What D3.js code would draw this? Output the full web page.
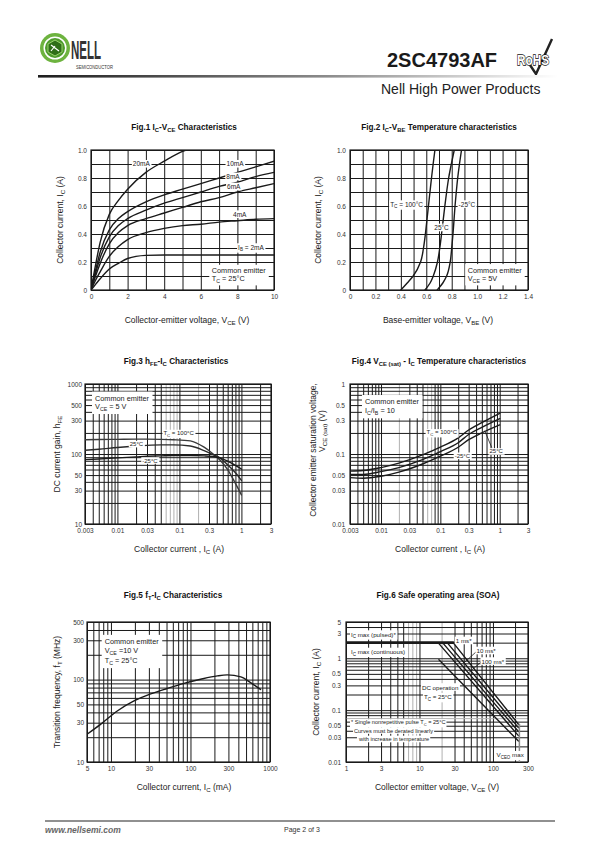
<!DOCTYPE html>
<html><head><meta charset="utf-8">
<script src="https://cdn.jsdelivr.net/npm/d3@7/dist/d3.min.js"></script>
<style>
body{margin:0;background:#fff}
svg{display:block}
text{font-family:"Liberation Sans",Arial,Helvetica,sans-serif}
</style></head>
<body><svg id="page" width="595" height="842" viewBox="0 0 595 842"></svg>
<script>
// ======================= DATA =======================
// Fig.1  IC-VCE (VCE in V, IC in A), one curve per base current
const fig1Vce   = [0,0.25,0.5,1,1.5,2,3,4,5,6,7,8,9,10];
const fig1Vce20 = [0,0.25,0.5,1,1.5,2,3,4,5,5.2];
const fig1Ib20  = [0,0.18,0.34,0.54,0.64,0.72,0.84,0.92,0.99,1.0];
const fig1Ib10  = [0,0.14,0.27,0.43,0.51,0.56,0.63,0.68,0.72,0.76,0.80,0.84,0.88,0.92];
const fig1Ib8   = [0,0.12,0.23,0.38,0.46,0.51,0.57,0.62,0.66,0.70,0.74,0.77,0.81,0.84];
const fig1Ib6   = [0,0.10,0.19,0.33,0.41,0.46,0.51,0.55,0.59,0.63,0.66,0.70,0.73,0.76];
const fig1Ib4   = [0,0.07,0.13,0.24,0.31,0.36,0.41,0.44,0.46,0.47,0.485,0.495,0.505,0.51];
const fig1Ib2   = [0,0.04,0.08,0.15,0.19,0.225,0.247,0.25,0.25,0.25,0.25,0.25,0.25,0.25];
const fig1XTicks = [0,2,4,6,8,10];
const fig1YTicks = [0,0.2,0.4,0.6,0.8,1.0];

// Fig.2  IC-VBE (IC in A, VBE in V)
const fig2Ic     = [0,0.05,0.1,0.2,0.3,0.4,0.5,0.6,0.7,0.8,0.9,1.0];
const fig2Vbe100 = [0.40,0.45,0.497,0.555,0.578,0.593,0.605,0.617,0.629,0.641,0.654,0.668];
const fig2Vbe25  = [0.59,0.63,0.655,0.688,0.706,0.72,0.733,0.746,0.76,0.776,0.797,0.82];
const fig2VbeM25 = [0.686,0.73,0.76,0.788,0.80,0.81,0.818,0.826,0.836,0.847,0.861,0.877];
const fig2XTicks = [0,0.2,0.4,0.6,0.8,1.0,1.2,1.4];
const fig2YTicks = [0,0.2,0.4,0.6,0.8,1.0];

// Fig.3  hFE-IC (IC in A)
const fig3Ic     = [0.003,0.005,0.01,0.02,0.03,0.05,0.08,0.15,0.25,0.35,0.45,0.6,0.8,1.0];
const fig3Hfe100 = [160,161,162,163,163,162,160,154,125,100,82,60,38,26];
const fig3Hfe25  = [113,117,124,130,133,135,135,130,112,98,88,70,54,42];
const fig3HfeM25 = [83,85,88,91,93,94,95,95,94,92,88,79,69,61];
const fig3XTicks = [0.003,0.01,0.03,0.1,0.3,1,3];
const fig3YTicks = [10,30,50,100,300,500,1000];

// Fig.4  VCE(sat)-IC (IC in A, VCE(sat) in V)
const fig4Ic      = [0.003,0.005,0.01,0.02,0.05,0.1,0.2,0.3,0.5,1];
const fig4Vsat100 = [0.057,0.058,0.064,0.074,0.097,0.125,0.17,0.22,0.28,0.38];
const fig4Vsat25  = [0.051,0.051,0.056,0.064,0.083,0.108,0.145,0.19,0.24,0.32];
const fig4VsatM25 = [0.046,0.045,0.048,0.055,0.072,0.093,0.125,0.16,0.20,0.26];
const fig4XTicks = [0.003,0.01,0.03,0.1,0.3,1,3];
const fig4YTicks = [0.01,0.03,0.05,0.1,0.3,0.5,1];

// Fig.5  fT-IC (IC in mA, fT in MHz)
const fig5Ic = [5,7.4,12,19.5,31.6,51,83,134,218,290,430,570,760];
const fig5Ft = [21.7,28.6,41.6,55,67,78,90,101,111,114,108,92,76];
const fig5XTicks = [5,10,30,100,300,1000];
const fig5YTicks = [10,30,50,100,300,500];

// Fig.6  SOA (VCE in V, IC in A)
const fig6IcMaxV = [1,28.7],    fig6IcMaxI = [2,2];
const fig6Ms1V   = [28.7,222],  fig6Ms1I   = [2,0.0535];
const fig6Ms10V  = [23.8,222],  fig6Ms10I  = [2,0.046];
const fig6Ms100V = [20.6,222],  fig6Ms100I = [2,0.0386];
const fig6LineDV = [17.9,222],  fig6LineDI = [2,0.0323];
const fig6DcV    = [18.4,222],  fig6DcI    = [0.94,0.0253];
const fig6VceoV  = [229,229],   fig6VceoI  = [0.0535,0.01];
const fig6XTicks = [1,3,10,30,100,300];
const fig6YTicks = [0.01,0.03,0.05,0.1,0.3,0.5,1,3,5];

// ======================= DRAWING =======================
const svg = d3.select('#page');
const INK = '#1a1a1a';
const defs = svg.append('defs');

function rich(parent, x, y, str, o = {}) {
  const size = o.size || 7;
  let tx = x;
  if (o.rotate) tx = x + size * 0.35;
  const t = parent.append('text').attr('x', tx).attr('y', y)
    .attr('font-size', size).attr('text-anchor', o.anchor || 'start')
    .attr('fill', o.fill || '#222').attr('font-weight', o.weight || 'normal');
  if (o.rotate) t.attr('transform', `rotate(-90,${tx},${y})`);
  if (o.style) t.attr('font-style', o.style);
  const parts = str.split(/(_\{[^}]*\})/).filter(s => s.length);
  let shift = 0;
  parts.forEach(p => {
    if (p.startsWith('_{')) {
      t.append('tspan').text(p.slice(2, -1)).attr('font-size', size * 0.72).attr('dy', size * 0.28);
      shift = size * 0.28;
    } else {
      const ts = t.append('tspan').text(p);
      if (shift) { ts.attr('dy', -shift); shift = 0; }
    }
  });
  if (o.bg) {
    const b = t.node().getBBox();
    const pd = o.pad == null ? 1 : o.pad;
    parent.insert('rect', () => t.node()).attr('x', b.x - pd).attr('y', b.y - 0.3)
      .attr('width', b.width + 2 * pd).attr('height', b.height + 0.6).attr('fill', '#fff');
  }
  return t;
}

function box(parent, xs, ys, strs, size, padX, padY) {
  const g = parent.append('g');
  strs.forEach((s, i) => rich(g, xs[i], ys[i], s, { size }));
  const b = g.node().getBBox();
  g.insert('rect', ':first-child').attr('x', b.x - padX).attr('y', b.y - padY)
    .attr('width', b.width + 2 * padX).attr('height', b.height + 2 * padY).attr('fill', '#fff');
  return g;
}

let clipN = 0;
function panel(c) {
  const g = svg.append('g');
  const x = (c.xlog ? d3.scaleLog() : d3.scaleLinear()).domain(c.xd).range([c.x0, c.x1]);
  const y = (c.ylog ? d3.scaleLog() : d3.scaleLinear()).domain(c.yd).range([c.y1, c.y0]);
  const W = c.x1 - c.x0, H = c.y1 - c.y0;
  const id = 'clip' + (clipN++);
  defs.append('clipPath').attr('id', id).append('rect')
    .attr('x', c.x0).attr('y', c.y0).attr('width', W).attr('height', H);
  const isGray = (list, d) => (list || []).some(v => Math.abs(d / v - 1) < 1e-6);
  const xg = x.ticks(c.xn || 10), yg = y.ticks(c.yn || 10);
  g.append('g').attr('transform', `translate(0,${c.y1})`)
    .call(d3.axisBottom(x).tickValues(xg).tickSize(-H).tickFormat(''))
    .call(a => a.select('.domain').remove())
    .selectAll('line').attr('stroke', d => isGray(c.grayX, d) ? '#b0b0b0' : INK).attr('stroke-width', 1);
  g.append('g').attr('transform', `translate(${c.x0},0)`)
    .call(d3.axisLeft(y).tickValues(yg).tickSize(-W).tickFormat(''))
    .call(a => a.select('.domain').remove())
    .selectAll('line').attr('stroke', d => isGray(c.grayY, d) ? '#b0b0b0' : INK).attr('stroke-width', 1);
  g.append('rect').attr('x', c.x0).attr('y', c.y0).attr('width', W).attr('height', H)
    .attr('fill', 'none').attr('stroke', INK).attr('stroke-width', 1.2);
  const xa = g.append('g').attr('transform', `translate(0,${c.y1})`)
    .call(d3.axisBottom(x).tickValues(c.xt).tickSize(0).tickPadding(c.xpad || 4.5).tickFormat(c.xf || (d => String(d))));
  xa.select('.domain').remove();
  xa.attr('font-size', 6.5).selectAll('text').attr('fill', '#333');
  const ya = g.append('g').attr('transform', `translate(${c.x0},0)`)
    .call(d3.axisLeft(y).tickValues(c.yt).tickSize(0).tickPadding(c.ypad || 4).tickFormat(c.yf || (d => String(d))));
  ya.select('.domain').remove();
  ya.attr('font-size', 6.5).selectAll('text').attr('fill', '#333');
  // titles
  rich(svg, c.tx, c.ty, c.title, { size: 8.2, anchor: 'middle', weight: 'bold', fill: '#111' });
  rich(svg, c.xlx, c.xly, c.xlabel, { size: 8.5, anchor: 'middle', fill: '#222' });
  c.ylabels.forEach(l => rich(svg, l[0], l[1], l[2], { size: 8.5, anchor: 'middle', rotate: true, fill: '#222' }));
  const cg = g.append('g').attr('clip-path', `url(#${id})`);
  return { g, x, y, cg };
}

function curve(p, xs, ys, o = {}) {
  const pts = xs.map((v, i) => [v, ys[i]]);
  const ln = d3.line().x(d => p.x(d[0])).y(d => p.y(d[1])).curve(o.curve || d3.curveMonotoneX);
  p.cg.append('path').attr('d', ln(pts)).attr('fill', 'none')
    .attr('stroke', o.stroke || INK).attr('stroke-width', o.w || 1.4).attr('stroke-linecap', 'round');
}
function lbl(p, vx, vy, s, o = {}) {
  const size = o.size || 6.5;
  return rich(p.g, p.x(vx), p.y(vy) + size * 0.35, s, Object.assign({ size, bg: true, fill: '#222' }, o));
}

// ---------------- HEADER ----------------
const lg = svg.append('g');
lg.append('circle').attr('cx', 55).attr('cy', 48).attr('r', 15).attr('fill', '#6db33f');
lg.append('circle').attr('cx', 55).attr('cy', 48).attr('r', 11.5).attr('fill', '#fff');
lg.append('circle').attr('cx', 55).attr('cy', 48).attr('r', 10).attr('fill', '#4e9a2c');
lg.append('path').attr('d', 'M55,40 L62,44 L62,52 L55,56 L48,52 L48,44 Z').attr('fill', '#2f6e18').attr('stroke', '#9bd36f').attr('stroke-width', 1);
lg.append('path').attr('d', 'M51,45 L59,51 M51,51 L55,46').attr('stroke', '#fff').attr('stroke-width', 1.2).attr('fill', 'none');
svg.append('text').attr('x', 71).attr('y', 59).attr('font-size', 25).attr('font-weight', 'bold')
  .attr('font-family', 'DejaVu Sans Condensed').attr('fill', '#333')
  .attr('textLength', 30).attr('lengthAdjust', 'spacingAndGlyphs').text('NELL');
svg.append('text').attr('x', 76).attr('y', 68.5).attr('font-size', 5.5).attr('fill', '#333')
  .attr('textLength', 37).attr('lengthAdjust', 'spacingAndGlyphs').text('SEMICONDUCTOR');
svg.append('text').attr('x', 387).attr('y', 67).attr('font-size', 20).attr('font-weight', 'bold')
  .attr('fill', '#1a1a1a').text('2SC4793AF');
const rh = svg.append('g');
rh.append('path').attr('d', 'M530,65 L536,74 L552,39').attr('fill', 'none').attr('stroke', '#222').attr('stroke-width', 2.4);
rh.append('text').attr('x', 517).attr('y', 65).attr('font-size', 15).attr('font-weight', 'bold')
  .attr('font-family', 'DejaVu Sans Condensed').attr('fill', '#fff').attr('stroke', '#111')
  .attr('stroke-width', 1.4).attr('paint-order', 'stroke')
  .attr('textLength', 32).attr('lengthAdjust', 'spacingAndGlyphs').text('RoHS');
const gr = defs.append('linearGradient').attr('id', 'hdrGrad');
gr.append('stop').attr('offset', '0%').attr('stop-color', '#1e1e1e');
gr.append('stop').attr('offset', '55%').attr('stop-color', '#8a8a8a');
gr.append('stop').attr('offset', '100%').attr('stop-color', '#ffffff');
svg.append('rect').attr('x', 38).attr('y', 75).attr('width', 520).attr('height', 2.6).attr('fill', 'url(#hdrGrad)');
svg.append('text').attr('x', 381).attr('y', 94).attr('font-size', 14).attr('fill', '#222').text('Nell High Power Products');

// ---------------- FIG 1 ----------------
const p1 = panel({
  x0: 91, x1: 274, y0: 150, y1: 290, xd: [0, 10], yd: [0, 1], xn: 10, yn: 10,
  xt: fig1XTicks, yt: fig1YTicks, xf: d => String(d), yf: d => d === 0 ? '0' : d.toFixed(1),
  title: 'Fig.1 I_{C}-V_{CE} Characteristics', tx: 184, ty: 130,
  xlabel: 'Collector-emitter voltage, V_{CE} (V)', xlx: 187, xly: 323,
  ylabels: [[60, 220, 'Collector current, I_{C} (A)']]
});
curve(p1, fig1Vce20, fig1Ib20);
[fig1Ib10, fig1Ib8, fig1Ib6, fig1Ib4, fig1Ib2].forEach(s => curve(p1, fig1Vce, s));
lbl(p1, 2.75, 0.9, '20mA', { anchor: 'middle' });
lbl(p1, 7.87, 0.9, '10mA', { anchor: 'middle' });
lbl(p1, 7.76, 0.81, '8mA', { anchor: 'middle' });
lbl(p1, 7.8, 0.738, '6mA', { anchor: 'middle' });
lbl(p1, 8.13, 0.54, '4mA', { anchor: 'middle' });
lbl(p1, 8.74, 0.305, 'I_{B} = 2mA', { anchor: 'middle' });
box(p1.g, [p1.x(6.6), p1.x(6.6)], [p1.y(0.138) + 2.6, p1.y(0.084) + 2.6],
  ['Common emitter', 'T_{C} = 25°C'], 7.3, 2.5, 1.5);

// ---------------- FIG 2 ----------------
const p2 = panel({
  x0: 350, x1: 528, y0: 150, y1: 290, xd: [0, 1.4], yd: [0, 1], xn: 14, yn: 10,
  xt: fig2XTicks, yt: fig2YTicks, xf: d => d === 0 ? '0' : d.toFixed(1), yf: d => d === 0 ? '0' : d.toFixed(1),
  title: 'Fig.2 I_{C}-V_{BE} Temperature characteristics', tx: 439, ty: 130,
  xlabel: 'Base-emitter voltage, V_{BE} (V)', xlx: 438, xly: 323,
  ylabels: [[318, 220, 'Collector current, I_{C} (A)']]
});
[fig2Vbe100, fig2Vbe25, fig2VbeM25].forEach(s => curve(p2, s, fig2Ic, { curve: d3.curveMonotoneY }));
lbl(p2, 0.445, 0.612, 'T_{C} = 100°C', { anchor: 'middle' });
lbl(p2, 0.92, 0.612, '-25°C', { anchor: 'middle' });
lbl(p2, 0.72, 0.445, '25°C', { anchor: 'middle' });
box(p2.g, [p2.x(0.926), p2.x(0.926)], [p2.y(0.143) + 2.6, p2.y(0.084) + 2.6],
  ['Common emitter', 'V_{CE} = 5V'], 7.3, 2.5, 1.5);

// ---------------- FIG 3 ----------------
const p3 = panel({
  x0: 85, x1: 271, y0: 384, y1: 524, xlog: true, ylog: true, xd: [0.003, 3], yd: [10, 1000],
  xt: fig3XTicks, yt: fig3YTicks, grayX: [0.06, 0.07, 0.08, 0.09, 0.2], ypad: 3,
  title: 'Fig.3 h_{FE}-I_{C} Characteristics', tx: 176, ty: 364,
  xlabel: 'Collector current , I_{C} (A)', xlx: 179, xly: 552,
  ylabels: [[57, 454, 'DC current gain, h_{FE}']]
});
curve(p3, fig3Ic, fig3Hfe100, { stroke: '#3a3a3a' });
curve(p3, fig3Ic, fig3Hfe25, { stroke: '#2a2a2a' });
curve(p3, fig3Ic, fig3HfeM25);
lbl(p3, 0.097, 200, 'T_{C} = 100°C', { anchor: 'middle', size: 6 });
lbl(p3, 0.0203, 139, '25°C', { anchor: 'middle', size: 6 });
lbl(p3, 0.0335, 81, '-25°C', { anchor: 'middle', size: 6 });
box(p3.g, [p3.x(0.00435), p3.x(0.00435)], [p3.y(631) + 2.6, p3.y(479) + 2.6],
  ['Common emitter', 'V_{CE} = 5 V'], 7.3, 3, 2);

// ---------------- FIG 4 ----------------
const p4 = panel({
  x0: 350, x1: 528, y0: 384, y1: 524, xlog: true, ylog: true, xd: [0.003, 3], yd: [0.01, 1],
  xt: fig4XTicks, yt: fig4YTicks, grayX: [0.02, 0.06, 0.07], ypad: 5,
  title: 'Fig.4 V_{CE (sat)} - I_{C} Temperature characteristics', tx: 439, ty: 364,
  xlabel: 'Collector current , I_{C} (A)', xlx: 440, xly: 552,
  ylabels: [[313, 450, 'Collector emitter saturation voltage,'], [322, 431, 'V_{CE (sat)} (V)']]
});
curve(p4, fig4Ic, fig4Vsat100);
curve(p4, fig4Ic, fig4Vsat25);
curve(p4, fig4Ic, fig4VsatM25);
p4.g.append('line').attr('x1', p4.x(0.737)).attr('y1', p4.y(0.123)).attr('x2', p4.x(0.559)).attr('y2', p4.y(0.215))
  .attr('stroke', INK).attr('stroke-width', 0.8);
lbl(p4, 0.1058, 0.204, 'T_{C} = 100°C', { anchor: 'middle', size: 6 });
lbl(p4, 0.235, 0.0946, '-25°C', { anchor: 'middle', size: 6 });
lbl(p4, 0.875, 0.109, '25°C', { anchor: 'middle', size: 6 });
box(p4.g, [p4.x(0.00536), p4.x(0.00536)], [p4.y(0.564) + 2.6, p4.y(0.416) + 2.6],
  ['Common emitter', 'I_{C}/I_{B} = 10'], 7.3, 3, 2);

// ---------------- FIG 5 ----------------
const p5 = panel({
  x0: 87, x1: 270, y0: 622, y1: 762, xlog: true, ylog: true, xd: [5, 1000], yd: [10, 500],
  xt: fig5XTicks, yt: fig5YTicks, ypad: 3,
  title: 'Fig.5 f_{T}-I_{C} Characteristics', tx: 173, ty: 598,
  xlabel: 'Collector current, I_{C} (mA)', xlx: 184, xly: 790,
  ylabels: [[57, 692, 'Transition frequency, f_{T} (MHz)']]
});
curve(p5, fig5Ic, fig5Ft);
box(p5.g, [p5.x(8.35), p5.x(8.35), p5.x(8.35)], [p5.y(288) + 2.6, p5.y(226) + 2.6, p5.y(173) + 2.6],
  ['Common emitter', 'V_{CE} =10 V', 'T_{C} = 25°C'], 7.3, 3, 2.5);

// ---------------- FIG 6 ----------------
const p6 = panel({
  x0: 346, x1: 528, y0: 622, y1: 762, xlog: true, ylog: true, xd: [1, 300], yd: [0.01, 5],
  xt: fig6XTicks, yt: fig6YTicks, grayX: [7, 8, 9, 20], grayY: [0.07], ypad: 5,
  title: 'Fig.6 Safe operating area (SOA)', tx: 438, ty: 598,
  xlabel: 'Collector emitter voltage, V_{CE} (V)', xlx: 437, xly: 790,
  ylabels: [[316, 692, 'Collector current, I_{C} (A)']]
});
const lin = d3.curveLinear;
curve(p6, fig6IcMaxV, fig6IcMaxI, { curve: lin, w: 2.6 });
curve(p6, fig6Ms1V, fig6Ms1I, { curve: lin });
curve(p6, fig6Ms10V, fig6Ms10I, { curve: lin });
curve(p6, fig6Ms100V, fig6Ms100I, { curve: lin });
curve(p6, fig6LineDV, fig6LineDI, { curve: lin });
curve(p6, fig6DcV, fig6DcI, { curve: lin });
curve(p6, fig6VceoV, fig6VceoI, { curve: lin, stroke: '#8a8a8a', w: 1.5 });
p6.g.append('line').attr('x1', p6.x(59.7)).attr('y1', p6.y(1.35)).attr('x2', p6.x(41.4)).attr('y2', p6.y(0.84))
  .attr('stroke', INK).attr('stroke-width', 0.8);
p6.g.append('line').attr('x1', p6.x(69.8)).attr('y1', p6.y(0.86)).attr('x2', p6.x(45.9)).attr('y2', p6.y(0.514))
  .attr('stroke', INK).attr('stroke-width', 0.8);
lbl(p6, 1.17, 2.88, 'I_{C} max (pulsed)*', { size: 6.2 });
lbl(p6, 1.17, 1.33, 'I_{C} max (continuous)', { size: 6.2 });
lbl(p6, 31.2, 2.17, '1 ms*', { size: 6.2 });
lbl(p6, 59.7, 1.39, '10 ms*', { size: 6.2 });
lbl(p6, 69.8, 0.87, '100 ms*', { size: 6.2 });
lbl(p6, 10.8, 0.275, 'DC operation', { size: 6.2 });
lbl(p6, 11.5, 0.178, 'T_{C} = 25°C', { size: 6.2 });
lbl(p6, 1.17, 0.0577, '* Single nonrepetitive pulse T_{C} = 25°C', { size: 5.6 });
lbl(p6, 1.284, 0.0404, 'Curves must be derated linearly', { size: 5.6 });
lbl(p6, 1.5, 0.0277, 'with increase in temperature', { size: 5.6 });
lbl(p6, 112, 0.0136, 'V_{CEO} max', { size: 6.2 });

// ---------------- FOOTER ----------------
svg.append('line').attr('x1', 45).attr('x2', 555).attr('y1', 821).attr('y2', 821).attr('stroke', '#222').attr('stroke-width', 1.2);
svg.append('text').attr('x', 45).attr('y', 833).attr('font-size', 8.5).attr('font-weight', 'bold')
  .attr('font-style', 'italic').attr('fill', '#666').text('www.nellsemi.com');
svg.append('text').attr('x', 284).attr('y', 832).attr('font-size', 7).attr('fill', '#333').text('Page 2 of 3');
</script>
</body></html>
